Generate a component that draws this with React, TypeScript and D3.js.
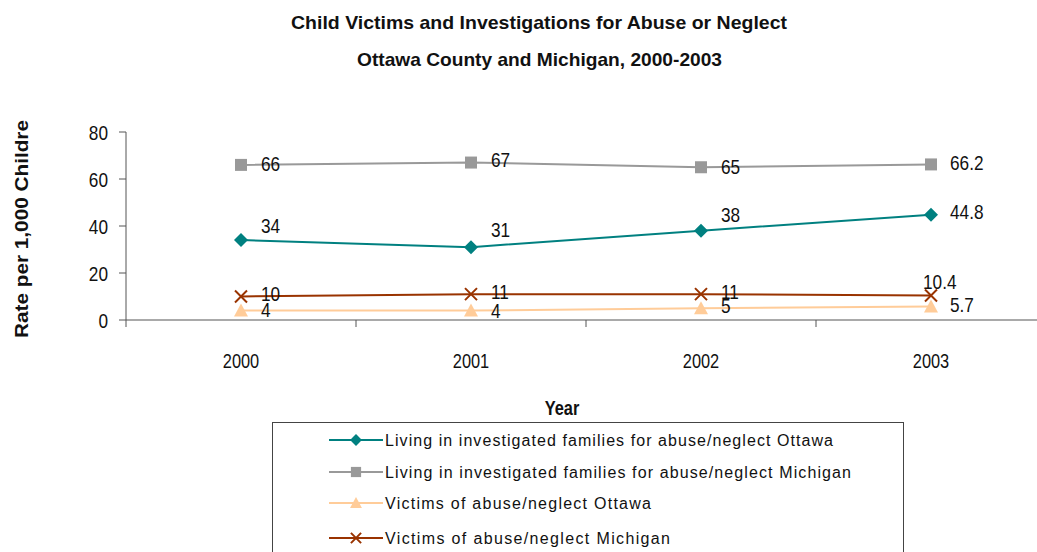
import React from "react";
import * as d3 from "d3";

const years = ["2000", "2001", "2002", "2003"];
const yTicks = [0, 20, 40, 60, 80];
const seriesNames = [
  "Living in investigated families for abuse/neglect Ottawa",
  "Living in investigated families for abuse/neglect Michigan",
  "Victims of abuse/neglect Ottawa",
  "Victims of abuse/neglect Michigan",
];
const livingOttawa = [34, 31, 38, 44.8];
const livingMichigan = [66, 67, 65, 66.2];
const victimsOttawa = [4, 4, 5, 5.7];
const victimsMichigan = [10, 11, 11, 10.4];
const labelTexts = [
  ["34", "31", "38", "44.8"],
  ["66", "67", "65", "66.2"],
  ["4", "4", "5", "5.7"],
  ["10", "11", "11", "10.4"],
];

const colors = ["#008080", "#999999", "#FFCC99", "#993300"];
const markers = ["diamond", "square", "triangle", "x"];
// label offsets (dx, dy of text centre) relative to point
const labelOffsets = [
  [[20, -15], [20, -18], [20, -16], [19, -3]],
  [[20, -1], [20, -3], [20, -1], [19, -2]],
  [[20, -1], [20, 0], [20, -3], [19, -2]],
  [[20, -3], [20, -3], [20, -3], [-8, -14]],
];
const legendTextWidths = [448, 466, 266, 285];

const sans = "'Liberation Sans', Arial, sans-serif";
const SX = 0.82;

function NText({
  x,
  y,
  size,
  anchor = "start",
  bold = false,
  children,
}: {
  x: number;
  y: number;
  size: number;
  anchor?: string;
  bold?: boolean;
  children: React.ReactNode;
}) {
  return (
    <g transform={`translate(${x},${y}) scale(${SX},1)`}>
      <text
        x={0}
        y={0}
        textAnchor={anchor}
        fontFamily={sans}
        fontSize={size}
        fontWeight={bold ? "bold" : "normal"}
        fill="#111"
      >
        {children}
      </text>
    </g>
  );
}

function Marker({ type, x, y, color, s = 1 }: { type: string; x: number; y: number; color: string; s?: number }) {
  if (type === "diamond") {
    const r = 7 * s;
    return <path d={`M${x},${y - r}L${x + r},${y}L${x},${y + r}L${x - r},${y}Z`} fill={color} />;
  }
  if (type === "square") {
    const r = 6 * s;
    return <rect x={x - r} y={y - r} width={2 * r} height={2 * r} fill={color} />;
  }
  if (type === "triangle") {
    const r = 7 * s;
    return <path d={`M${x},${y - r}L${x + r},${y + r * 0.85}L${x - r},${y + r * 0.85}Z`} fill={color} />;
  }
  const r = 6 * s;
  return (
    <path
      d={`M${x - r},${y - r}L${x + r},${y + r}M${x + r},${y - r}L${x - r},${y + r}`}
      stroke={color}
      strokeWidth={2}
      fill="none"
    />
  );
}

export default function App() {
  const width = 1037;
  const height = 552;
  const x0 = 126;
  const bandW = 230;
  const x = d3.scaleBand().domain(years).range([x0, x0 + bandW * years.length]);
  const y = d3.scaleLinear().domain([0, 80]).range([320, 132]);
  const allSeries = [livingOttawa, livingMichigan, victimsOttawa, victimsMichigan];
  const drawOrder = [2, 3, 1, 0];
  const cx = (i: number) => (x(years[i]) as number) + x.bandwidth() / 2;
  const line = d3
    .line<number>()
    .x((_, i) => cx(i))
    .y((d) => y(d));

  return (
    <svg width={width} height={height} style={{ position: "absolute", left: 0, top: 0 }}>
      <rect width={width} height={height} fill="#fff" />
      <text
        x={291}
        y={29}
        textLength={496}
        lengthAdjust="spacingAndGlyphs"
        fontFamily={sans}
        fontWeight="bold"
        fontSize={19}
        fill="#111"
      >
        Child Victims and Investigations for Abuse or Neglect
      </text>
      <text
        x={357}
        y={66}
        textLength={365}
        lengthAdjust="spacingAndGlyphs"
        fontFamily={sans}
        fontWeight="bold"
        fontSize={19}
        fill="#111"
      >
        Ottawa County and Michigan, 2000-2003
      </text>

      {/* y axis */}
      <line x1={x0} x2={x0} y1={y(80)} y2={y(0) + 7} stroke="#555" />
      {yTicks.map((t) => (
        <g key={t}>
          <line x1={x0 - 7} x2={x0} y1={y(t)} y2={y(t)} stroke="#555" />
          <NText x={x0 - 18} y={y(t) + 7.5} size={21} anchor="end">
            {t}
          </NText>
        </g>
      ))}
      <text
        transform={`translate(28,338) rotate(-90)`}
        textLength={218}
        lengthAdjust="spacingAndGlyphs"
        fontFamily={sans}
        fontWeight="bold"
        fontSize={19}
        fill="#111"
      >
        Rate per 1,000 Childre
      </text>

      {/* x axis */}
      <line x1={x0} x2={width} y1={y(0)} y2={y(0)} stroke="#555" />
      {years.map((yr, i) => (
        <g key={yr}>
          {i > 0 && <line x1={x(yr)} x2={x(yr)} y1={y(0)} y2={y(0) + 7} stroke="#555" />}
          <NText x={cx(i)} y={368} size={20} anchor="middle">
            {yr}
          </NText>
        </g>
      ))}
      <NText x={562} y={415} size={20} anchor="middle" bold>
        Year
      </NText>

      {/* series */}
      {drawOrder.map((si) => (
        <g key={si}>
          <path d={line(allSeries[si]) as string} fill="none" stroke={colors[si]} strokeWidth={2} />
          {allSeries[si].map((v, i) => (
            <Marker key={i} type={markers[si]} x={cx(i)} y={y(v)} color={colors[si]} />
          ))}
        </g>
      ))}
      {drawOrder.map((si) =>
        allSeries[si].map((v, i) => (
          <NText
            key={`${si}-${i}`}
            x={cx(i) + labelOffsets[si][i][0]}
            y={y(v) + labelOffsets[si][i][1] + 7.5}
            size={21}
          >
            {labelTexts[si][i]}
          </NText>
        ))
      )}

      {/* legend */}
      <rect x={272.5} y={422.5} width={631} height={140} fill="#fff" stroke="#444" />
      {seriesNames.map((n, i) => {
        const ly = [440, 472, 503, 538][i];
        return (
          <g key={n}>
            <line x1={329} x2={383} y1={ly} y2={ly} stroke={colors[i]} strokeWidth={2} />
            <Marker type={markers[i]} x={356} y={ly} color={colors[i]} s={0.85} />
            <text
              x={385}
              y={ly + 6}
              textLength={legendTextWidths[i]}
              lengthAdjust="spacing"
              fontFamily={sans}
              fontSize={16}
              fill="#111"
            >
              {n}
            </text>
          </g>
        );
      })}
    </svg>
  );
}
